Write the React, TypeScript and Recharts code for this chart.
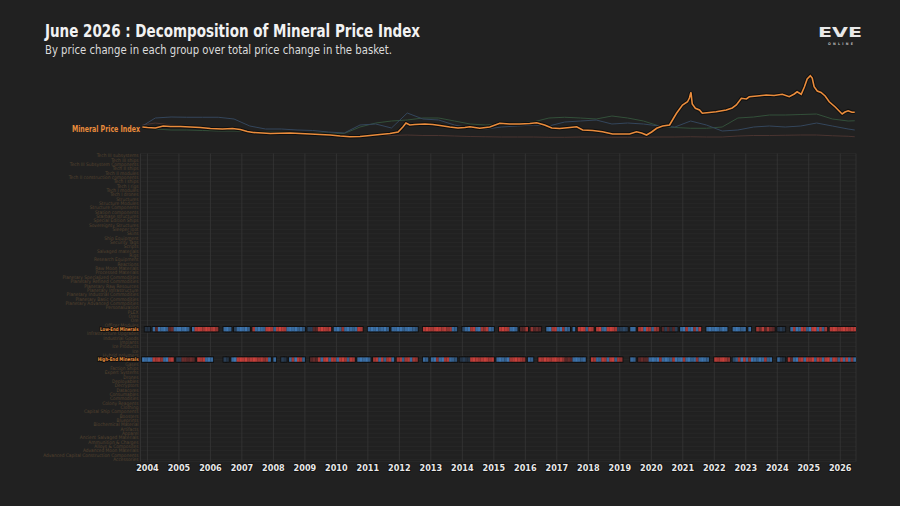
import React from "react";
import {
  CartesianGrid,
  Line,
  LineChart,
  Scatter,
  ScatterChart,
  XAxis,
  YAxis,
} from "recharts";

// year ticks along the bottom
const years = [
  2004, 2005, 2006, 2007, 2008, 2009, 2010, 2011, 2012, 2013, 2014, 2015,
  2016, 2017, 2018, 2019, 2020, 2021, 2022, 2023, 2024, 2025, 2026,
];

// Mineral Price Index (2004 = 100)
const indexDates = [
  2003.84, 2004.0, 2004.25, 2004.5, 2004.73, 2005.05, 2005.36, 2005.68, 2006.0, 2006.38,
  2006.7, 2006.95, 2007.17, 2007.36, 2007.65, 2007.9, 2008.2, 2008.53, 2008.85, 2009.17,
  2009.48, 2009.8, 2010.12, 2010.43, 2010.75, 2011.07, 2011.38, 2011.7, 2011.96, 2012.11,
  2012.21, 2012.33, 2012.49, 2012.81, 2013.06, 2013.29, 2013.6, 2013.86, 2014.08, 2014.24,
  2014.55, 2014.87, 2015.19, 2015.5, 2015.82, 2016.14, 2016.36, 2016.61, 2016.84, 2017.09,
  2017.41, 2017.63, 2017.82, 2018.14, 2018.45, 2018.77, 2019.06, 2019.31, 2019.53, 2019.69,
  2019.85, 2020.01, 2020.17, 2020.36, 2020.58, 2020.71, 2020.8, 2020.99, 2021.15, 2021.21,
  2021.26, 2021.3, 2021.4, 2021.53, 2021.62, 2021.84, 2022.06, 2022.38, 2022.57, 2022.7,
  2022.86, 2023.02, 2023.11, 2023.36, 2023.65, 2023.9, 2024.16, 2024.38, 2024.54, 2024.63,
  2024.76, 2024.86, 2024.95, 2025.05, 2025.11, 2025.17, 2025.27, 2025.39, 2025.52, 2025.65,
  2025.84, 2026.06, 2026.15, 2026.25, 2026.37, 2026.46,
];
const mineralPriceIndex = [
  104, 102, 100, 108, 106, 106, 104, 102, 98, 96,
  98, 94, 86, 82, 80, 78, 79, 80, 78, 76,
  74, 72, 68, 65, 66, 70, 74, 78, 84, 104,
  120, 112, 114, 116, 114, 110, 104, 100, 102, 105,
  99, 104, 119, 116, 116, 118, 121, 112, 100, 98,
  102, 105, 92, 90, 85, 76, 76, 76, 85, 80,
  72, 84, 99, 108, 112, 140, 159, 192, 205, 220,
  243, 196, 179, 172, 159, 162, 165, 172, 180, 192,
  219, 216, 225, 228, 232, 230, 235, 225, 236, 245,
  235, 264, 296, 309, 300, 265, 248, 242, 228, 205,
  184, 156, 164, 169, 163, 163,
];

// half-yearly readings of the faded group lines
const groupDates = [
  2003.84, 2004.25, 2004.75, 2005.25, 2005.75, 2006.25, 2006.75, 2007.25, 2007.75, 2008.25,
  2008.75, 2009.25, 2009.75, 2010.25, 2010.75, 2011.25, 2011.75, 2012.25, 2012.75, 2013.25,
  2013.75, 2014.25, 2014.75, 2015.25, 2015.75, 2016.25, 2016.75, 2017.25, 2017.75, 2018.25,
  2018.75, 2019.25, 2019.75, 2020.25, 2020.75, 2021.25, 2021.75, 2022.25, 2022.75, 2023.25,
  2023.75, 2024.25, 2024.75, 2025.25, 2025.75, 2026.25, 2026.46,
];
const highEndIndex = [
  108, 140, 144, 143, 143, 143, 136, 108, 96, 96,
  92, 90, 84, 80, 112, 116, 100, 160, 136, 132,
  112, 100, 96, 104, 108, 112, 108, 124, 128, 132,
  116, 120, 116, 108, 104, 128, 112, 88, 92, 104,
  108, 104, 108, 120, 108, 96, 92,
];
const lowEndIndex = [
  100, 96, 92, 92, 90, 88, 88, 86, 84, 84,
  82, 80, 80, 78, 104, 120, 128, 132, 140, 140,
  128, 116, 112, 116, 120, 124, 140, 143, 140, 136,
  148, 140, 128, 108, 102, 99, 99, 104, 140, 144,
  152, 152, 154, 156, 136, 128, 129,
];
const otherIndex = [
  112, 120, 112, 108, 104, 100, 96, 88, 80, 78,
  76, 74, 72, 70, 70, 70, 70, 72, 70, 70,
  68, 66, 65, 64, 64, 64, 63, 63, 64, 64,
  63, 63, 63, 64, 64, 65, 64, 64, 68, 70,
  70, 71, 72, 72, 69, 67, 65,
];

// market groups, one row each
const groupLabels = [
  "Tech III subsystems", "Tech III ships", "Tech III Subsystem Components", "Tech II ships",
  "Tech II modules", "Tech II construction components", "Tech I ships", "Tech I rigs",
  "Tech I modules", "Tech I drones", "Structures", "Structure Modules", "Structure Components",
  "Station components", "Starbase structures", "Special Edition Ships", "Sovereignty Structures",
  "Sleeper loot", "Skins", "Ship Equipment", "Security Tags", "Scripts", "Salvaged materials",
  "Rigs", "Research Equipment", "Reactions", "Raw Moon Materials", "Processed Materials",
  "Planetary Specialized Commodities", "Planetary Refined Commodities", "Planetary Raw Resources",
  "Planetary Infrastructure", "Planetary Industrial Commodities", "Planetary Basic Commodities",
  "Planetary Advanced Commodities", "Personalization", "PLEX", "Ores", "Ore", "Officer Modules",
  "Low-End Minerals", "Infrastructure Upgrades", "Industrial Goods", "Implants", "Ice Products",
  "Ice", "Hybrid polymers", "High-End Minerals", "Gases", "Faction Ships", "Expert Systems",
  "Drones", "Deployables", "Decryptors", "Datacores", "Consumables", "Commodities",
  "Colony Reagents", "Clothing", "Capital Ship Components", "Boosters", "Blueprints",
  "Biochemical Material", "Artifacts", "Apparel", "Ancient Salvaged Materials",
  "Ammunition & Charges", "Alloys & Composites", "Advanced Moon Materials",
  "Advanced Capital Construction Components", "Accessories",
];

// monthly share of the basket change, Nov 2003 .. Jun 2026 (+ red, - blue)
const lowEndMinerals = [
  0, -0.2,
  -0.2, 0, -0.7, 0.3, -0.8, -0.7, -0.8, -0.6, 0.3, 0.4, -0.7, -0.8,
  -0.8, -0.7, -0.8, -0.6, 0, -0.7, 0.8, 0.9, 0.8, 0.7, 0.9, 0.8,
  0.7, 0.8, 0.6, 0, 0, -0.7, -0.8, -0.6, 0, -0.3, -0.7, -0.8,
  -0.7, -0.8, -0.6, 0, 0.7, -0.7, -0.8, -0.7, -0.6, 0.8, 0.9, 0.7,
  -0.6, 0.8, 0.9, 0.8, 0.7, -0.7, -0.8, -0.7, -0.8, -0.6, -0.7, -0.5,
  0, -0.3, -0.3, 0.3, 0.3, 0.8, 0.9, 0.8, 0.7, 0.8, 0, -0.7,
  -0.8, -0.6, 0.6, -0.7, -0.8, -0.7, -0.6, -0.7, 0.8, 0.7, 0, 0,
  -0.7, -0.8, -0.7, -0.8, -0.6, -0.7, -0.8, -0.6, 0, -0.7, -0.7, -0.8,
  -0.8, -0.6, -0.7, -0.8, -0.7, -0.6, -0.5, 0, 0, 0.8, 0.9, 0.8,
  0.7, 0.8, 0.9, 0.8, 0.7, 0.8, 0.6, 0.7, -0.7, -0.6, 0, 0,
  -0.4, -0.7, -0.8, 0.7, 0.8, -0.7, -0.8, 0.7, 0.6, 0.8, -0.7, -0.6,
  0, 0, 0.8, 0.9, 0.8, 0.7, -0.7, -0.8, -0.6, 0, 0.3, 0.3,
  0.7, 0, 0.6, 0.3, 0.4, 0.3, 0, 0, -0.7, -0.8, 0.7, 0.8,
  -0.7, -0.8, 0.6, -0.7, -0.6, 0, -0.7, 0, 0.8, 0.9, 0.8, -0.6,
  0.8, 0.7, 0, 0.8, 0.9, -0.6, -0.7, 0.8, 0.9, 0.8, 0.7, -0.3,
  -0.3, -0.4, -0.3, 0, -0.7, -0.7, 0, 0.7, 0.8, -0.7, 0.8, 0.7,
  -0.6, 0.7, 0.6, 0, 0.3, -0.3, 0.3, -0.2, 0.3, -0.3, 0, -0.7,
  -0.8, 0.7, -0.7, -0.8, 0.6, -0.7, 0.8, 0, 0, -0.7, -0.8, -0.7,
  -0.8, -0.7, -0.6, -0.8, -0.7, 0, 0, -0.7, -0.8, -0.7, -0.6, -0.7,
  0, -0.7, 0, 0, 0.7, 0.4, 0.8, 0.3, 0.7, 0.4, 0.3, 0,
  -0.2, -0.3, -0.2, 0, 0, -0.7, 0.7, -0.8, -0.7, 0.8, 0.7, -0.6,
  -0.8, 0.8, 0.9, -0.7, 0.8, -0.6, 0.7, 0, 0.8, 0.9, 0.8, 0.7,
  0.8, 0.9, 0.8, 0.7, 0.8, 0.8,
];
const highEndMinerals = [
  -0.8, -0.7,
  -0.8, -0.7, 0.8, 0.7, 0.8, 0.6, -0.7, -0.8, 0.7, 0.8, 0, -0.3,
  -0.3, 0.4, 0.4, 0.3, 0.4, 0.3, 0, 0.8, 0.7, 0.8, -0.7, -0.8,
  -0.7, 0, 0, 0, 0, -0.3, -0.2, 0, -0.7, -0.8, 0.8, 0.9,
  0.8, 0.9, 0.7, 0.8, 0.9, 0.8, 0.7, 0.8, 0.6, 0.7, -0.7, 0,
  -0.7, 0, 0, -0.3, -0.2, 0, -0.7, 0.7, -0.8, 0.8, 0.7, -0.6,
  0, 0, 0.3, 0.4, 0.3, 0.8, -0.7, 0.8, 0.9, -0.6, 0.8, 0.7,
  -0.7, 0.8, 0.9, 0.7, -0.6, 0.8, 0.7, 0, -0.7, -0.8, -0.7, -0.8,
  -0.6, 0, 0.7, 0.8, -0.7, 0.8, -0.6, 0.7, 0.8, -0.7, 0, 0.7,
  0.8, -0.6, 0.7, 0.8, -0.7, 0.7, 0.6, 0, 0, -0.7, -0.6, 0,
  -0.7, -0.8, 0.6, -0.7, -0.8, 0.7, 0.8, -0.7, -0.6, -0.5, 0, -0.2,
  -0.3, -0.2, -0.2, 0.8, 0.9, 0.8, 0.7, 0.8, 0.9, 0.8, 0.7, 0.8,
  0, -0.7, -0.8, -0.7, -0.6, -0.8, 0.7, 0.8, 0.9, 0.8, 0.7, 0.6,
  0, -0.7, -0.6, 0, 0, 0.8, 0.7, 0.9, 0.8, 0.7, 0.8, 0.9,
  0.7, 0.8, 0.6, 0.3, 0.4, 0.3, -0.7, -0.8, -0.7, -0.6, -0.7, 0,
  0, 0.8, 0.7, -0.7, -0.6, 0.8, 0.7, -0.7, 0.8, 0.9, -0.6, 0.7,
  0.6, 0, 0, 0, -0.7, -0.6, 0, 0.3, 0.4, 0.3, 0.3, -0.7,
  -0.8, -0.7, -0.8, 0.6, -0.7, -0.8, -0.7, -0.6, 0.7, -0.8, -0.7, -0.8,
  0.7, -0.7, -0.8, -0.6, -0.7, 0.6, -0.7, -0.8, -0.7, -0.6, 0, 0,
  0.8, 0.7, 0.8, 0.9, 0.7, 0.6, 0, -0.4, -0.6, 0.7, -0.8, 0.8,
  -0.7, 0.6, -0.8, -0.7, -0.6, -0.8, -0.7, 0.7, -0.6, -0.7, 0, 0,
  -0.7, -0.3, -0.2, 0, 0.7, 0.3, -0.7, -0.8, 0.7, 0.8, -0.7, 0.8,
  0.7, 0.9, -0.6, 0.8, 0.7, -0.7, 0.8, 0.9, -0.7, 0.8, 0.7, -0.6,
  0.8, -0.7, 0.8, -0.7, 0.6, -0.7,
];

const X_DOMAIN: [number, number] = [2003.78, 2026.5];
const FIRST_MONTH = 2003 + 10 / 12;
const BG = "#212121";
const ORANGE = "#ea8c3c";
const FONT = "'DejaVu Sans Condensed', 'DejaVu Sans', sans-serif";
const CELL_W = 2.75;
const CELL_H = 4.4;

const rowIds = groupLabels.map((_, i) => i);
const lowEndRow = groupLabels.indexOf("Low-End Minerals");
const highEndRow = groupLabels.indexOf("High-End Minerals");

const toCells = (values: number[], row: number) =>
  values
    .map((v, i) => ({ x: FIRST_MONTH + i / 12 + 1 / 24, y: row, v }))
    .filter((d) => d.v !== 0);

const heatCells = [
  ...toCells(lowEndMinerals, lowEndRow),
  ...toCells(highEndMinerals, highEndRow),
];

const toLine = (dates: number[], values: number[]) =>
  dates.map((x, i) => ({ x, v: values[i] }));

function cellColor(v: number) {
  const base = v > 0 ? [220, 68, 62] : [70, 140, 212];
  const dark = [28, 28, 30];
  const t = Math.min(1, Math.abs(v));
  const c = base.map((b, k) => Math.round(dark[k] + (b - dark[k]) * t));
  return `rgb(${c[0]},${c[1]},${c[2]})`;
}

function HeatShadow(props: any) {
  const { cx, cy } = props;
  return (
    <rect
      x={cx - CELL_W / 2 - 0.9}
      y={cy - CELL_H / 2 - 1}
      width={CELL_W + 1.8}
      height={CELL_H + 2}
      fill="#101010"
    />
  );
}

function HeatCell(props: any) {
  const { cx, cy, payload } = props;
  return (
    <rect
      x={cx - CELL_W / 2}
      y={cy - CELL_H / 2}
      width={CELL_W}
      height={CELL_H}
      fill={cellColor(payload.v)}
    />
  );
}

function RowTick(props: any) {
  const { x, y, payload } = props;
  const hi = payload.value === lowEndRow || payload.value === highEndRow;
  const label = groupLabels[payload.value];
  return (
    <text
      x={x}
      y={y}
      dy={1.7}
      textAnchor="end"
      fontFamily={FONT}
      fontSize={hi ? 5 : 4.8}
      fontWeight={hi ? 700 : 400}
      fill={hi ? "#eb9442" : "#55432f"}
      stroke={hi ? "#0c0c0c" : "none"}
      strokeWidth={hi ? 1.6 : 0}
      paintOrder="stroke"
      textLength={hi ? label.length * 2.4 : undefined}
      lengthAdjust="spacingAndGlyphs"
    >
      {label}
    </text>
  );
}

function YearTick(props: any) {
  const { x, payload } = props;
  return (
    <text
      x={x}
      y={470.5}
      textAnchor="middle"
      fontFamily={FONT}
      fontSize={9}
      fontWeight={700}
      fill="#e8e8e8"
      stroke="#0e0e0e"
      strokeWidth={1.6}
      paintOrder="stroke"
    >
      {payload.value}
    </text>
  );
}

export default function App() {
  return (
    <div style={{ position: "relative", width: 900, height: 506, background: BG, overflow: "hidden" }}>
      <style>{"body{margin:0;background:#212121}"}</style>

      <div style={{ position: "absolute", left: 0, top: 0 }}>
        <ScatterChart
          width={900}
          height={506}
          margin={{ top: 153.5, right: 44, bottom: 14.5, left: 0 }}
        >
          <CartesianGrid vertical={false} stroke="#2c2c2c" strokeWidth={0.6} />
          <CartesianGrid horizontal={false} stroke="#363636" strokeWidth={0.8} />
          <XAxis
            type="number"
            dataKey="x"
            domain={X_DOMAIN}
            ticks={years}
            interval={0}
            allowDataOverflow
            axisLine={false}
            tickLine={false}
            height={30}
            tick={<YearTick />}
          />
          <YAxis
            type="number"
            dataKey="y"
            domain={[-0.5, groupLabels.length - 0.5]}
            reversed
            ticks={rowIds}
            interval={0}
            axisLine={false}
            tickLine={false}
            tickSize={0}
            tickMargin={2}
            width={140.5}
            tick={<RowTick />}
          />
          <Scatter data={heatCells} shape={<HeatShadow />} isAnimationActive={false} />
          <Scatter data={heatCells} shape={<HeatCell />} isAnimationActive={false} />
        </ScatterChart>
      </div>

      <div style={{ position: "absolute", left: 0, top: 0 }}>
        <LineChart width={900} height={150} margin={{ top: 68, right: 44, bottom: 7, left: 140.5 }}>
          <XAxis type="number" dataKey="x" domain={X_DOMAIN} allowDataOverflow hide />
          <YAxis type="number" domain={[40, 340]} hide />
          <Line data={toLine(groupDates, otherIndex)} dataKey="v" stroke="#4a3430" strokeWidth={1} dot={false} isAnimationActive={false} />
          <Line data={toLine(groupDates, lowEndIndex)} dataKey="v" stroke="#33503a" strokeWidth={1} dot={false} isAnimationActive={false} />
          <Line data={toLine(groupDates, highEndIndex)} dataKey="v" stroke="#34465c" strokeWidth={1} dot={false} isAnimationActive={false} />
          <Line data={toLine(indexDates, mineralPriceIndex)} dataKey="v" stroke="#0f0f0f" strokeWidth={3.6} dot={false} isAnimationActive={false} />
          <Line data={toLine(indexDates, mineralPriceIndex)} dataKey="v" stroke={ORANGE} strokeWidth={1.6} dot={false} isAnimationActive={false} />
        </LineChart>
      </div>

      <svg width={900} height={506} style={{ position: "absolute", left: 0, top: 0, pointerEvents: "none" }}>
        <text x={45} y={36.7} fontFamily={FONT} fontSize={18} fontWeight={700} fill="#f2f2f2" textLength={375} lengthAdjust="spacingAndGlyphs">
          June 2026 : Decomposition of Mineral Price Index
        </text>
        <text x={45} y={53.5} fontFamily={FONT} fontSize={12} fill="#dcdcdc" textLength={347} lengthAdjust="spacingAndGlyphs">
          By price change in each group over total price change in the basket.
        </text>
        <text x={140} y={131.5} textAnchor="end" fontFamily={FONT} fontSize={8} fontWeight={700} fill={ORANGE} textLength={68} lengthAdjust="spacingAndGlyphs">
          Mineral Price Index
        </text>
        <text x={818} y={37} fontFamily={FONT} fontSize={14.5} fontWeight={700} fill="#e8e8e8" textLength={44} lengthAdjust="spacingAndGlyphs">
          EVE
        </text>
        <text x={828} y={44.5} fontFamily={FONT} fontSize={3.6} fontWeight={700} fill="#bdbdbd" textLength={25} lengthAdjust="spacing">
          ONLINE
        </text>
      </svg>
    </div>
  );
}
